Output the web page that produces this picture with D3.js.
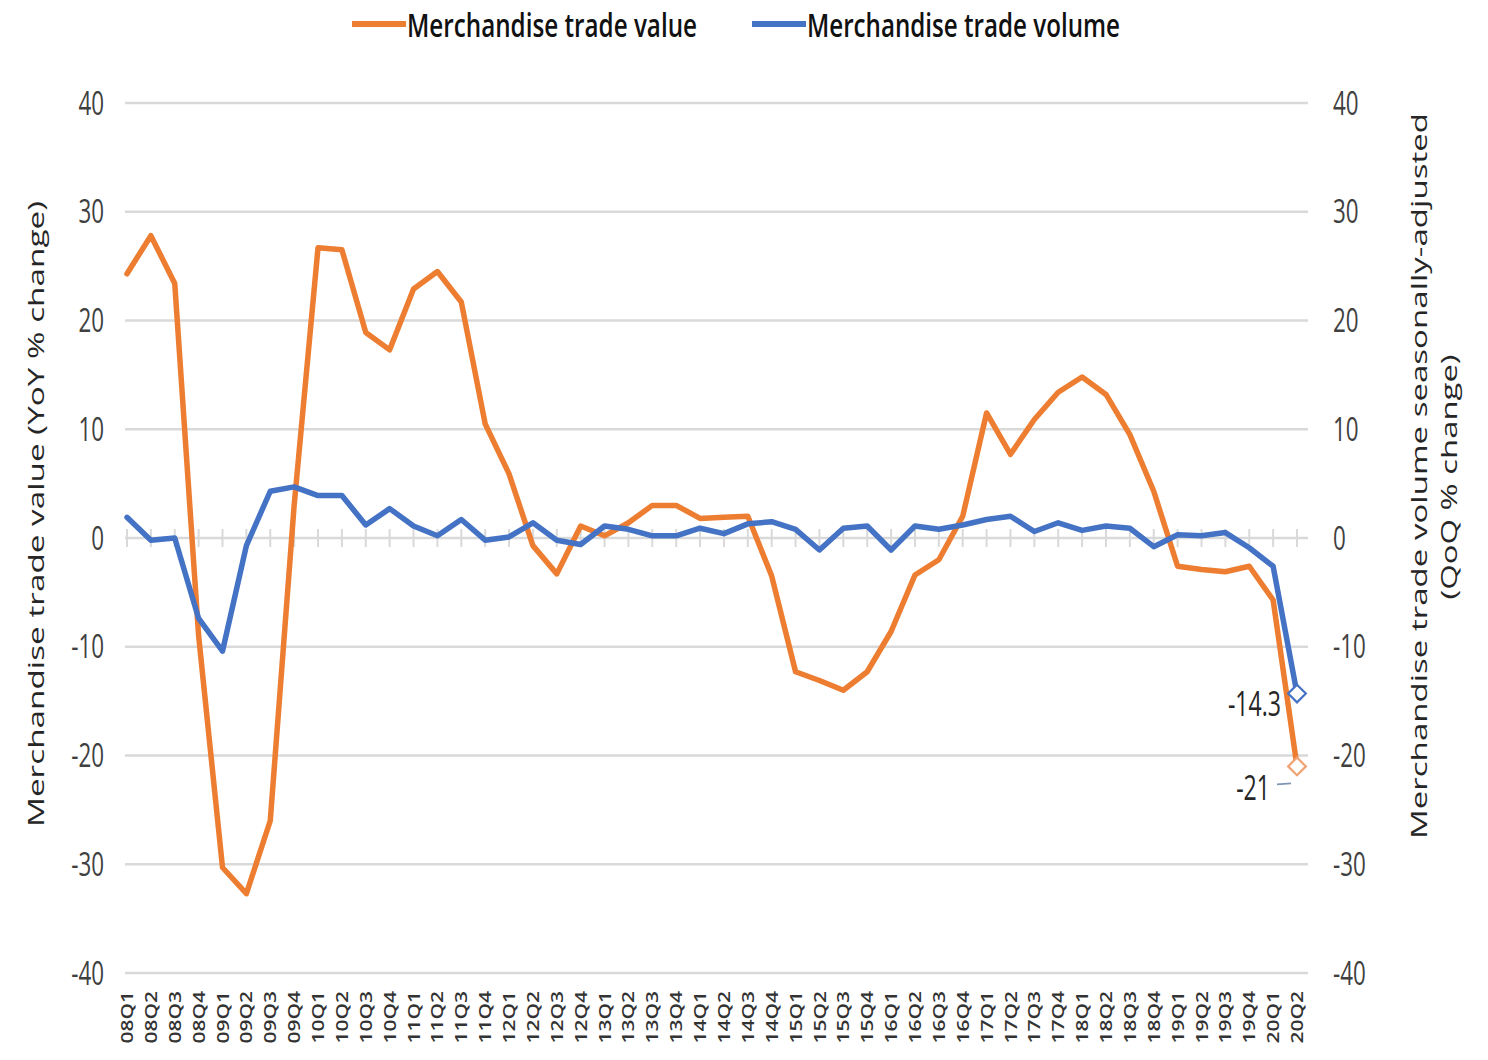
<!DOCTYPE html>
<html>
<head>
<meta charset="utf-8">
<script src="https://cdn.jsdelivr.net/npm/d3@7"></script>
<style>
  html, body { margin: 0; padding: 0; background: #ffffff; }
  svg { display: block; }
</style>
</head>
<body>
<svg id="chart" width="1488" height="1060"></svg>
<script>
// ---- data ----
const quarters = ["08Q1","08Q2","08Q3","08Q4","09Q1","09Q2","09Q3","09Q4",
  "10Q1","10Q2","10Q3","10Q4","11Q1","11Q2","11Q3","11Q4",
  "12Q1","12Q2","12Q3","12Q4","13Q1","13Q2","13Q3","13Q4",
  "14Q1","14Q2","14Q3","14Q4","15Q1","15Q2","15Q3","15Q4",
  "16Q1","16Q2","16Q3","16Q4","17Q1","17Q2","17Q3","17Q4",
  "18Q1","18Q2","18Q3","18Q4","19Q1","19Q2","19Q3","19Q4",
  "20Q1","20Q2"];
const tradeValueYoY = [24.3, 27.8, 23.4, -9.0, -30.3, -32.7, -26.0, 3.0, 26.7, 26.5,
  18.9, 17.3, 22.9, 24.5, 21.7, 10.5, 5.9, -0.7, -3.3, 1.1,
  0.2, 1.4, 3.0, 3.0, 1.8, 1.9, 2.0, -3.5, -12.3, -13.1,
  -14.0, -12.3, -8.6, -3.4, -2.0, 2.0, 11.5, 7.7, 10.9, 13.4,
  14.8, 13.2, 9.5, 4.3, -2.6, -2.9, -3.1, -2.6, -5.7, -21.0];
const tradeVolumeQoQ = [1.9, -0.2, 0.0, -7.4, -10.4, -0.7, 4.3, 4.7, 3.9, 3.9,
  1.2, 2.7, 1.1, 0.2, 1.7, -0.2, 0.1, 1.4, -0.2, -0.6,
  1.1, 0.8, 0.2, 0.2, 0.9, 0.4, 1.3, 1.5, 0.8, -1.1,
  0.9, 1.1, -1.1, 1.1, 0.8, 1.2, 1.7, 2.0, 0.6, 1.4,
  0.7, 1.1, 0.9, -0.8, 0.3, 0.2, 0.5, -0.9, -2.6, -14.3];
const yTicks = [-40, -30, -20, -10, 0, 10, 20, 30, 40];
const seriesNames = ["Merchandise trade value", "Merchandise trade volume"];
const leftTitle = "Merchandise trade value (YoY % change)";
const rightTitle1 = "Merchandise trade volume seasonally-adjusted";
const rightTitle2 = "(QoQ % change)";
const lastValueLabel = "-21";
const lastVolumeLabel = "-14.3";

// ---- styling ----
const ORANGE = "#ED7D31", BLUE = "#4472C4", GRID = "#d9d9d9", TXT = "#404040";
const FONT = "'Open Sans', 'Noto Sans', sans-serif";
const SQ = 0.7; // horizontal squeeze of glyphs, as in the reference

const svg = d3.select("#chart");

const x = d3.scalePoint().domain(quarters).range([127, 1297]);
const yL = d3.scaleLinear().domain([-40, 40]).range([973, 103]);
const yR = d3.scaleLinear().domain([-40, 40]).range([973, 103]);

// gridlines
svg.append("g").selectAll("line").data(yTicks.filter(d => d !== 0)).join("line")
  .attr("x1", 125).attr("x2", 1308)
  .attr("y1", d => yL(d)).attr("y2", d => yL(d))
  .attr("stroke", GRID).attr("stroke-width", 2.5);

// zero axis with category ticks
svg.append("line").attr("x1", 125).attr("x2", 1308)
  .attr("y1", yL(0)).attr("y2", yL(0))
  .attr("stroke", GRID).attr("stroke-width", 2.5);
svg.append("g").selectAll("line").data(quarters).join("line")
  .attr("x1", d => x(d)).attr("x2", d => x(d))
  .attr("y1", yL(0) - 9).attr("y2", yL(0) + 9)
  .attr("stroke", GRID).attr("stroke-width", 2);

// left tick labels
svg.append("g").selectAll("text").data(yTicks).join("text")
  .attr("transform", d => `translate(104,${yL(d)}) scale(${SQ},1)`)
  .attr("text-anchor", "end").attr("dy", "0.36em")
  .attr("font-family", FONT).attr("font-size", 32).attr("fill", TXT)
  .text(d => d);

// right tick labels
svg.append("g").selectAll("text").data(yTicks).join("text")
  .attr("transform", d => `translate(1333,${yR(d)}) scale(${SQ},1)`)
  .attr("text-anchor", "start").attr("dy", "0.36em")
  .attr("font-family", FONT).attr("font-size", 32).attr("fill", TXT)
  .text(d => d);

// x tick labels (rotated)
svg.append("g").selectAll("text").data(quarters).join("text")
  .attr("transform", d => `translate(${x(d)},991) scale(0.8,1) rotate(-90)`)
  .attr("text-anchor", "end").attr("dy", "0.36em")
  .attr("font-family", FONT).attr("font-size", 21).attr("font-weight", 600).attr("fill", "#333")
  .text(d => d);

// axis titles
svg.append("text")
  .attr("transform", `translate(36,514) scale(${SQ},1) rotate(-90)`)
  .attr("text-anchor", "middle").attr("dy", "0.36em")
  .attr("font-family", FONT).attr("font-size", 31).attr("fill", "#262626")
  .attr("textLength", 626).attr("lengthAdjust", "spacingAndGlyphs")
  .text(leftTitle);
svg.append("text")
  .attr("transform", `translate(1419,476) scale(${SQ},1) rotate(-90)`)
  .attr("text-anchor", "middle").attr("dy", "0.36em")
  .attr("font-family", FONT).attr("font-size", 31).attr("fill", "#262626")
  .attr("textLength", 726).attr("lengthAdjust", "spacingAndGlyphs")
  .text(rightTitle1);
svg.append("text")
  .attr("transform", `translate(1449,477) scale(${SQ},1) rotate(-90)`)
  .attr("text-anchor", "middle").attr("dy", "0.36em")
  .attr("font-family", FONT).attr("font-size", 31).attr("fill", "#262626")
  .attr("textLength", 245).attr("lengthAdjust", "spacingAndGlyphs")
  .text(rightTitle2);

// lines
const lineL = d3.line().x((d, i) => x(quarters[i])).y(d => yL(d));
const lineR = d3.line().x((d, i) => x(quarters[i])).y(d => yR(d));
svg.append("path").datum(tradeValueYoY).attr("d", lineL)
  .attr("fill", "none").attr("stroke", ORANGE).attr("stroke-width", 5.5)
  .attr("stroke-linejoin", "round").attr("stroke-linecap", "round");
svg.append("path").datum(tradeVolumeQoQ).attr("d", lineR)
  .attr("fill", "none").attr("stroke", BLUE).attr("stroke-width", 5.5)
  .attr("stroke-linejoin", "round").attr("stroke-linecap", "round");

// last-point markers (hollow diamonds)
const lastQ = quarters[quarters.length - 1];
const lastV = tradeValueYoY[tradeValueYoY.length - 1];
const lastW = tradeVolumeQoQ[tradeVolumeQoQ.length - 1];
const diamond = d3.symbol().type(d3.symbolDiamond2).size(200);
svg.append("path").attr("d", diamond)
  .attr("transform", `translate(${x(lastQ)},${yR(lastW)})`)
  .attr("fill", "#fff").attr("stroke", BLUE).attr("stroke-width", 2.2);
svg.append("path").attr("d", diamond)
  .attr("transform", `translate(${x(lastQ)},${yL(lastV)})`)
  .attr("fill", "#fff").attr("stroke", "#F0A273").attr("stroke-width", 2.2);

// data labels
svg.append("text")
  .attr("transform", `translate(1281,${yR(lastW) + 10}) scale(0.66,1)`)
  .attr("text-anchor", "end").attr("dy", "0.36em")
  .attr("font-family", FONT).attr("font-size", 35).attr("font-weight", 500).attr("fill", "#262626")
  .text(lastVolumeLabel);
svg.append("line")
  .attr("x1", 1277).attr("x2", 1291).attr("y1", yL(lastV) + 18).attr("y2", yL(lastV) + 17)
  .attr("stroke", "#7f95b5").attr("stroke-width", 2);
svg.append("text")
  .attr("transform", `translate(1270,${yL(lastV) + 21}) scale(0.66,1)`)
  .attr("text-anchor", "end").attr("dy", "0.36em")
  .attr("font-family", FONT).attr("font-size", 35).attr("font-weight", 500).attr("fill", "#262626")
  .text(lastValueLabel);

// legend
const legend = [
  { name: seriesNames[0], color: ORANGE, x0: 352, tx: 407, tw: 290 },
  { name: seriesNames[1], color: BLUE, x0: 752, tx: 807, tw: 313 }
];
const lg = svg.append("g").selectAll("g").data(legend).join("g");
lg.append("line")
  .attr("x1", d => d.x0).attr("x2", d => d.x0 + 54)
  .attr("y1", 24).attr("y2", 24)
  .attr("stroke", d => d.color).attr("stroke-width", 6);
lg.append("text")
  .attr("x", d => d.tx).attr("y", 37)
  .attr("font-family", FONT).attr("font-size", 33).attr("font-weight", 600).attr("fill", "#111")
  .attr("textLength", d => d.tw).attr("lengthAdjust", "spacingAndGlyphs")
  .text(d => d.name);
</script>
</body>
</html>
